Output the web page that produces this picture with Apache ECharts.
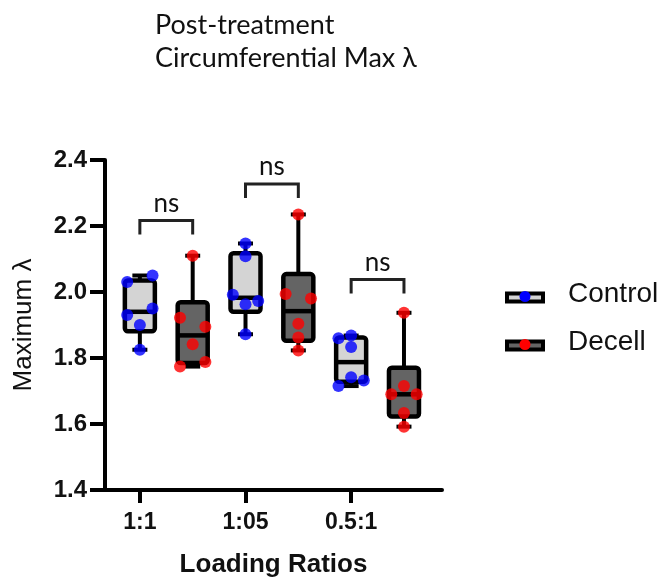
<!DOCTYPE html>
<html>
<head>
<meta charset="utf-8">
<script src="https://cdn.jsdelivr.net/npm/echarts@6/dist/echarts.min.js"></script>
<style>
  html, body { margin: 0; padding: 0; background: #fff; }
  #chart { width: 667px; height: 583px; }
</style>
</head>
<body>
<div id="chart"></div>
<script>
// Loading ratios on the x axis
const ratios = ['1:1', '1:05', '0.5:1'];
const groups = ['Control', 'Decell'];

// Maximum stretch per sample, one row per loading ratio
const control = [
  [2.05, 2.03, 1.95, 1.93, 1.90, 1.825],
  [2.147, 2.108, 1.992, 1.973, 1.963, 1.872],
  [1.86, 1.868, 1.833, 1.742, 1.732, 1.715]
];
const decell = [
  [2.11, 1.922, 1.895, 1.842, 1.788, 1.774],
  [2.235, 1.994, 1.98, 1.904, 1.862, 1.823],
  [1.937, 1.715, 1.69, 1.69, 1.633, 1.592]
];

// Side-by-side spread of overlapping points: -1 left, 0 centre, 1 right
const controlJitter = [
  [1, -1, 1, -1, 0, 0],
  [0, 0, -1, 1, 0, 0],
  [-1, 0, 0, 0, 1, -1]
];
const decellJitter = [
  [0, -1, 1, 0, 1, -1],
  [0, -1, 1, 0, 0, 0],
  [0, 0, -1, 1, 0, 0]
];

// Pairwise comparison results and the bracket height for each ratio
const sigLabels = ['ns', 'ns', 'ns'];
const sigLevels = [2.217, 2.327, 2.038];

const yTicks = [1.4, 1.6, 1.8, 2.0, 2.2, 2.4];

const boxFill = ['#d4d4d4', '#646464'];
const dotColor = ['#0000ff', '#ff0000'];
const SPREAD = 0.24;

// Quartiles by the (n + 1) interpolation rule
function quantile(sorted, p) {
  const n = sorted.length;
  const pos = (n + 1) * p;
  if (pos <= 1) return sorted[0];
  if (pos >= n) return sorted[n - 1];
  const lo = Math.floor(pos);
  const f = pos - lo;
  return sorted[lo - 1] + f * (sorted[lo] - sorted[lo - 1]);
}

function boxStats(rows, s) {
  return rows.map((vals, g) => {
    const v = vals.slice().sort((a, b) => a - b);
    return [g * 2 + s, v[0], quantile(v, 0.25), quantile(v, 0.5), quantile(v, 0.75), v[v.length - 1]];
  });
}

function dots(rows, jitter, s) {
  const out = [];
  rows.forEach((vals, g) => {
    vals.forEach((v, i) => out.push([g * 2 + s + jitter[g][i] * SPREAD, v]));
  });
  return out;
}

function renderBox(s) {
  return function (params, api) {
    const x = api.value(0);
    const pMin = api.coord([x, api.value(1)]);
    const pQ1 = api.coord([x, api.value(2)]);
    const pMed = api.coord([x, api.value(3)]);
    const pQ3 = api.coord([x, api.value(4)]);
    const pMax = api.coord([x, api.value(5)]);
    const cx = pMin[0];
    const hw = 15, cap = 7.5;
    const line = { stroke: '#000', lineWidth: 4 };
    return {
      type: 'group',
      children: [
        { type: 'line', shape: { x1: cx, y1: pMax[1], x2: cx, y2: pQ3[1] }, style: line },
        { type: 'line', shape: { x1: cx, y1: pQ1[1], x2: cx, y2: pMin[1] }, style: line },
        { type: 'line', shape: { x1: cx - cap, y1: pMax[1], x2: cx + cap, y2: pMax[1] }, style: line },
        { type: 'line', shape: { x1: cx - cap, y1: pMin[1], x2: cx + cap, y2: pMin[1] }, style: line },
        { type: 'rect', shape: { x: cx - hw, y: pQ3[1], width: hw * 2, height: pQ1[1] - pQ3[1], r: 3 },
          style: { fill: boxFill[s], stroke: '#000', lineWidth: 4.5, lineJoin: 'round' } },
        { type: 'line', shape: { x1: cx - hw, y1: pMed[1], x2: cx + hw, y2: pMed[1] },
          style: { stroke: '#000', lineWidth: 4.5 } }
      ]
    };
  };
}

function renderBracket(params, api) {
  const a = api.coord([api.value(0), api.value(2)]);
  const b = api.coord([api.value(1), api.value(2)]);
  const leg = 14;
  return {
    type: 'group',
    children: [
      { type: 'polyline',
        shape: { points: [[a[0], a[1] + leg], [a[0], a[1]], [b[0], b[1]], [b[0], b[1] + leg]] },
        style: { stroke: '#222', lineWidth: 3, fill: null } },
      { type: 'text',
        style: { text: sigLabels[params.dataIndex], x: (a[0] + b[0]) / 2, y: a[1] - 4,
          align: 'center', verticalAlign: 'bottom', fill: '#111',
          fontFamily: 'Lato', fontSize: 26 } }
    ]
  };
}

const axisFont = '"Liberation Sans", Arial, sans-serif';
const series = [];
[control, decell].forEach((rows, s) => {
  series.push({
    type: 'custom', name: groups[s], data: boxStats(rows, s),
    encode: { x: 0, y: [1, 2, 3, 4, 5] }, renderItem: renderBox(s), z: 2
  });
});
[[control, controlJitter], [decell, decellJitter]].forEach(([rows, jit], s) => {
  series.push({
    type: 'scatter', name: groups[s], data: dots(rows, jit, s),
    symbolSize: 12, itemStyle: { color: dotColor[s] }, z: 3
  });
});
series.push({
  type: 'custom', name: 'comparisons',
  data: sigLevels.map((y, g) => [g * 2, g * 2 + 1, y]),
  encode: { x: [0, 1], y: 2 }, renderItem: renderBracket, z: 4
});

// Legend drawn as box swatches with a dot
const legendItems = groups.map((name, s) => {
  const cy = 297.5 + s * 48;
  return {
    type: 'group',
    children: [
      { type: 'rect', shape: { x: 507, y: cy - 4, width: 36, height: 8 },
        style: { fill: boxFill[s], stroke: '#000', lineWidth: 4 } },
      { type: 'circle', shape: { cx: 525, cy: cy - 1, r: 5.5 }, style: { fill: dotColor[s] } },
      { type: 'text', style: { text: name, x: 568, y: cy - 3, verticalAlign: 'middle',
          fontFamily: axisFont, fontSize: 28, fill: '#111' } }
    ]
  };
});

const chart = echarts.init(document.getElementById('chart'));
chart.setOption({
  backgroundColor: '#fff',
  animation: false,
  title: {
    text: 'Post-treatment\nCircumferential Max λ',
    left: 150, top: 4,
    textStyle: { fontFamily: 'Lato', fontSize: 27, fontWeight: 'normal', color: '#111', lineHeight: 33 }
  },
  grid: { left: 105, right: 225, top: 160, bottom: 90, containLabel: false },
  xAxis: {
    type: 'value', min: -0.66, max: 5.72,
    name: 'Loading Ratios', nameLocation: 'middle', nameGap: 62,
    nameTextStyle: { fontFamily: axisFont, fontSize: 26, fontWeight: 'bold', color: '#111' },
    axisLine: { onZero: false, lineStyle: { color: '#000', width: 4 } },
    axisTick: { show: true, length: 13, customValues: [0, 2, 4], lineStyle: { color: '#000', width: 4 } },
    axisLabel: {
      customValues: [0, 2, 4], margin: 21,
      formatter: v => ratios[Math.round(v / 2)],
      fontFamily: axisFont, fontSize: 23, fontWeight: 'bold', color: '#111'
    },
    splitLine: { show: false }
  },
  yAxis: {
    type: 'value', min: yTicks[0], max: yTicks[yTicks.length - 1], interval: 0.2,
    name: 'Maximum λ', nameLocation: 'middle', nameGap: 68,
    nameTextStyle: { fontFamily: axisFont, fontSize: 26, color: '#111' },
    axisLine: { show: true, onZero: false, lineStyle: { color: '#000', width: 4 } },
    axisTick: { show: true, length: 15, lineStyle: { color: '#000', width: 4 } },
    axisLabel: {
      margin: 18, formatter: v => v.toFixed(1),
      fontFamily: axisFont, fontSize: 24, fontWeight: 'bold', color: '#111'
    },
    splitLine: { show: false }
  },
  graphic: legendItems,
  series: series
});
</script>
</body>
</html>
